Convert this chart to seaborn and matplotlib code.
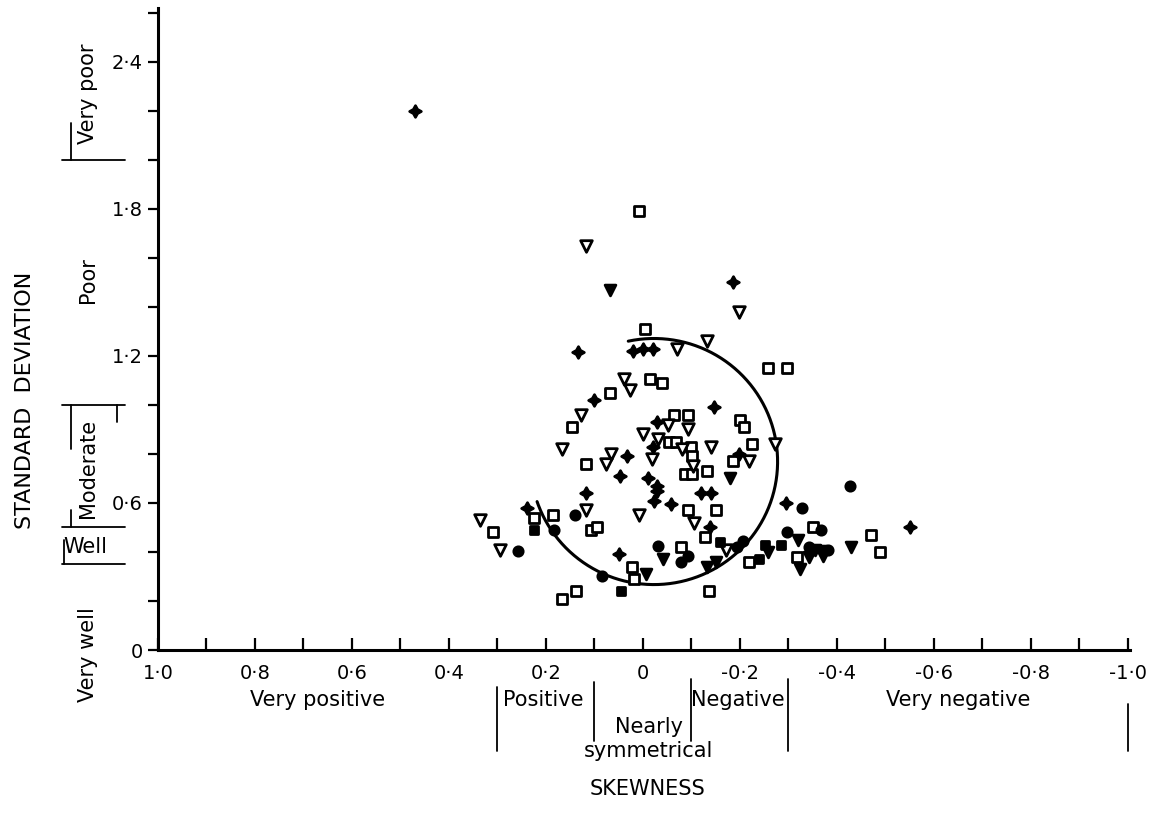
import numpy as np
import matplotlib
matplotlib.use("Agg")
import matplotlib.pyplot as plt
import seaborn as sns
from matplotlib.ticker import FixedLocator
from matplotlib.transforms import blended_transform_factory

# ---------------- data (skewness, standard deviation) ----------------
star_skew = [0.47, -0.185, 0.134, 0.02, 0.00, -0.02, 0.10, -0.03, -0.146, -0.02, 0.033,
             -0.198, 0.047, -0.01, -0.03, -0.03, 0.117, -0.023, -0.121, -0.14, -0.058,
             -0.296, -0.138, -0.551, 0.239, 0.049]
star_sd = [2.20, 1.50, 1.215, 1.22, 1.23, 1.23, 1.02, 0.93, 0.99, 0.83, 0.79,
           0.80, 0.71, 0.70, 0.67, 0.65, 0.64, 0.61, 0.64, 0.64, 0.595,
           0.60, 0.50, 0.50, 0.58, 0.39]

open_sq_skew = [0.008, -0.004, -0.014, -0.039, 0.068, -0.064, 0.146, -0.053, -0.068, -0.259,
                -0.298, -0.093, -0.20, -0.208, -0.226, -0.099, -0.101, -0.187, -0.086, -0.101,
                -0.132, 0.117, 0.107, 0.095, -0.093, -0.15, -0.128, -0.352, -0.471, -0.078,
                -0.218, -0.317, -0.49, -0.136, 0.023, 0.019, 0.138, 0.167, 0.185, 0.224, 0.309]
open_sq_sd = [1.79, 1.31, 1.105, 1.09, 1.05, 0.96, 0.91, 0.85, 0.85, 1.15,
              1.15, 0.96, 0.94, 0.91, 0.84, 0.83, 0.79, 0.77, 0.72, 0.72,
              0.73, 0.76, 0.49, 0.50, 0.57, 0.57, 0.46, 0.50, 0.47, 0.42,
              0.36, 0.38, 0.40, 0.24, 0.34, 0.29, 0.24, 0.21, 0.55, 0.54, 0.48]

open_tri_skew = [0.117, -0.198, -0.132, -0.07, 0.039, 0.027, 0.128, -0.051, 0.0, -0.031,
                 0.167, 0.066, -0.019, -0.093, -0.272, -0.14, -0.08, -0.218, -0.103, 0.076,
                 0.117, 0.008, -0.105, -0.171, 0.335, 0.294]
open_tri_sd = [1.65, 1.38, 1.26, 1.23, 1.105, 1.06, 0.96, 0.92, 0.88, 0.86,
               0.82, 0.80, 0.78, 0.90, 0.84, 0.83, 0.82, 0.77, 0.75, 0.76,
               0.57, 0.55, 0.52, 0.41, 0.53, 0.41]

filled_tri_skew = [0.068, -0.179, -0.321, -0.259, -0.356, -0.368, -0.342, -0.372, -0.43,
                   -0.041, -0.132, -0.15, -0.325, -0.006]
filled_tri_sd = [1.47, 0.70, 0.45, 0.40, 0.41, 0.405, 0.38, 0.385, 0.42,
                 0.37, 0.34, 0.36, 0.33, 0.31]

filled_circ_skew = [-0.428, -0.329, -0.298, -0.368, -0.206, -0.195, -0.342, -0.383,
                    -0.078, -0.093, 0.14, -0.031, 0.084, 0.183, 0.257]
filled_circ_sd = [0.67, 0.58, 0.48, 0.49, 0.445, 0.42, 0.42, 0.41,
                  0.36, 0.385, 0.55, 0.425, 0.30, 0.49, 0.405]

filled_sq_skew = [-0.16, -0.253, -0.284, -0.239, 0.045, 0.224]
filled_sq_sd = [0.44, 0.43, 0.43, 0.37, 0.24, 0.49]

# sorting envelope (drawn arc)
arc_centre = (-0.023, 0.769)
arc_radius = (0.255, 0.502)
arc_span_deg = (102, -161)

x_major = [1.0, 0.8, 0.6, 0.4, 0.2, 0.0, -0.2, -0.4, -0.6, -0.8, -1.0]
x_labels = ["1·0", "0·8", "0·6", "0·4", "0·2", "0", "-0·2", "-0·4", "-0·6", "-0·8", "-1·0"]
y_major = [0.0, 0.6, 1.2, 1.8, 2.4]
y_labels = ["0", "0·6", "1·2", "1·8", "2·4"]

skew_classes = ["Very positive", "Positive", "Nearly\nsymmetrical", "Negative", "Very negative"]
skew_class_pos = [0.67, 0.205, -0.012, -0.195, -0.65]
skew_bounds = [0.3, 0.1, -0.1, -0.3, -1.0]

# ---------------- plot ----------------
sns.set_theme(style="ticks")
plt.rcParams['font.family'] = ['DejaVu Sans']
plt.rcParams['text.color'] = 'black'
plt.rcParams['axes.labelcolor'] = 'black'
plt.rcParams['xtick.color'] = 'black'
plt.rcParams['ytick.color'] = 'black'

fig = plt.figure(figsize=(11.55, 8.16), dpi=100)
ax = fig.add_axes([0.1368, 0.2034, 0.8416, 0.787])

t = np.radians(np.linspace(arc_span_deg[0], arc_span_deg[1], 300))
ax.plot(arc_centre[0] - arc_radius[0] * np.cos(t), arc_centre[1] + arc_radius[1] * np.sin(t),
        color="black", lw=2.2, zorder=2)

groups = [
    (open_sq_skew, open_sq_sd, "s", "white", 48),
    (open_tri_skew, open_tri_sd, "v", "white", 70),
    (filled_tri_skew, filled_tri_sd, "v", "black", 60),
    (filled_circ_skew, filled_circ_sd, "o", "black", 45),
    (filled_sq_skew, filled_sq_sd, "s", "black", 40),
    (star_skew, star_sd, (4, 1, 0), "black", 70),
]
for gx, gy, m, fc, s in groups:
    sns.scatterplot(x=gx, y=gy, marker=m, s=s, facecolor=fc, edgecolor="black",
                    linewidth=2.0, ax=ax, zorder=3, legend=False)

ax.set_xlim(1.0, -1.005)
ax.set_ylim(0, 2.62)
for side in ["top", "right"]:
    ax.spines[side].set_visible(False)
for side in ["left", "bottom"]:
    ax.spines[side].set_linewidth(2.2)
    ax.spines[side].set_color("black")

ax.xaxis.set_major_locator(FixedLocator(x_major))
ax.set_xticklabels(x_labels)
ax.xaxis.set_minor_locator(FixedLocator(np.round(np.arange(-0.9, 1.0, 0.2), 2)))
ax.yaxis.set_major_locator(FixedLocator(y_major))
ax.set_yticklabels(y_labels)
ax.yaxis.set_minor_locator(FixedLocator([0.2, 0.4, 0.8, 1.0, 1.4, 1.6, 2.0, 2.2, 2.6]))
ax.tick_params(axis="x", which="both", direction="in", length=9, width=1.6,
               labelsize=14, pad=10, colors="black")
ax.tick_params(axis="y", which="both", direction="out", length=7, width=1.6,
               labelsize=14, pad=4, colors="black")
ax.set_xlabel("")
ax.set_ylabel("")

# skewness classes below the axis
for lab, xp in zip(skew_classes, skew_class_pos):
    if "\n" in lab:
        ax.text(xp, -0.315, "Nearly", ha="center", va="center", fontsize=15, clip_on=False)
        ax.text(xp, -0.41, "symmetrical", ha="center", va="center", fontsize=15, clip_on=False)
    else:
        ax.text(xp, -0.205, lab, ha="center", va="center", fontsize=15, clip_on=False)
bound_spans = {0.3: (-0.15, -0.41), 0.1: (-0.13, -0.37), -0.1: (-0.12, -0.37),
               -0.3: (-0.12, -0.41), -1.0: (-0.22, -0.41)}
for b in skew_bounds:
    y0, y1 = bound_spans[b]
    ax.plot([b, b], [y0, y1], color="black", lw=1.3, clip_on=False)
ax.text(-0.01, -0.565, "SKEWNESS", ha="center", va="center", fontsize=15, clip_on=False)

# sorting classes left of the axis
tr = blended_transform_factory(ax.transAxes, ax.transData)
for yb in [2.0, 1.0, 0.5, 0.35]:
    ax.plot([-0.099, -0.034], [yb, yb], color="black", lw=1.3, transform=tr, clip_on=False)
for xa, ya, yb in [(-0.089, 2.0, 2.15), (-0.089, 1.0, 0.82), (-0.042, 1.0, 0.93),
                   (-0.089, 0.5, 0.57), (-0.097, 0.35, 0.45)]:
    ax.plot([xa, xa], [ya, yb], color="black", lw=1.3, transform=tr, clip_on=False)
ax.text(-0.072, 2.27, "Very poor", rotation=90, ha="center", va="center", fontsize=15,
        transform=tr)
ax.text(-0.072, 1.51, "Poor", rotation=90, ha="center", va="center", fontsize=15, transform=tr)
ax.text(-0.072, 0.74, "Moderate", rotation=90, ha="center", va="center", fontsize=15,
        transform=tr)
ax.text(-0.097, 0.42, "Well", ha="left", va="center", fontsize=15, transform=tr)
ax.text(-0.072, -0.02, "Very well", rotation=90, ha="center", va="center", fontsize=15,
        transform=tr)
ax.text(-0.137, 1.02, "STANDARD  DEVIATION", rotation=90, ha="center", va="center",
        fontsize=16, transform=tr)

fig.savefig("out.png", dpi=100, facecolor="white")
